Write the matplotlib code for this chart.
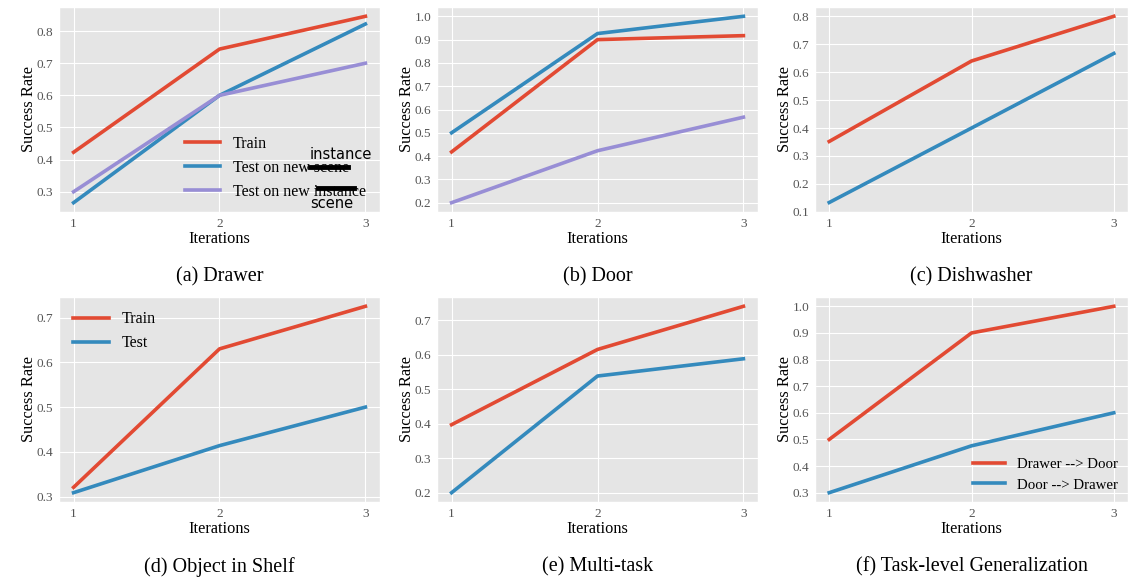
import matplotlib
matplotlib.use("Agg")
import matplotlib.pyplot as plt
from matplotlib.lines import Line2D
from matplotlib.ticker import MultipleLocator

# ---------------------------------------------------------------
# DATA
# ---------------------------------------------------------------
iterations = [1, 2, 3]

drawer_train = [0.423, 0.744, 0.846]
drawer_test_scene = [0.266, 0.60, 0.822]
drawer_test_instance = [0.30, 0.60, 0.70]

door_train = [0.418, 0.90, 0.917]
door_test_scene = [0.50, 0.926, 1.0]
door_test_instance = [0.20, 0.423, 0.567]

dish_train = [0.352, 0.64, 0.80]
dish_test = [0.1335, 0.40, 0.667]

shelf_train = [0.321, 0.63, 0.725]
shelf_test = [0.309, 0.414, 0.50]

multi_train = [0.397, 0.615, 0.740]
multi_test = [0.20, 0.538, 0.588]

task_drawer_to_door = [0.50, 0.90, 1.0]
task_door_to_drawer = [0.30, 0.476, 0.60]

captions = ["(a) Drawer", "(b) Door", "(c) Dishwasher",
            "(d) Object in Shelf", "(e) Multi-task", "(f) Task-level Generalization"]

# ---------------------------------------------------------------
# STYLE
# ---------------------------------------------------------------
plt.style.use("ggplot")
plt.rcParams["font.family"] = ["Liberation Serif", "DejaVu Serif"]
plt.rcParams["xtick.labelsize"] = 9.5
plt.rcParams["ytick.labelsize"] = 9.5
plt.rcParams["xtick.color"] = "#555555"
plt.rcParams["ytick.color"] = "#555555"
plt.rcParams["axes.labelcolor"] = "black"
plt.rcParams["axes.labelsize"] = 11.8

RED, BLUE, PURPLE = "#E24A33", "#348ABD", "#988ED5"
LW = 2.6

W, H = 1130, 580
fig = plt.figure(figsize=(W / 100, H / 100), dpi=100)

cols = [(59, 380), (437, 758), (815, 1128)]
rows = [(7, 212), (297, 502)]


def make_ax(r, c):
    x0, x1 = cols[c]
    y0, y1 = rows[r]
    ax = fig.add_axes([x0 / W, 1 - y1 / H, (x1 - x0) / W, (y1 - y0) / H])
    ax.set_xticks(iterations)
    ax.yaxis.set_major_locator(MultipleLocator(0.1))
    ax.set_xlabel("Iterations", labelpad=1)
    ax.set_ylabel("Success Rate", labelpad=0)
    ax.tick_params(length=0, pad=4)
    fig.text((x0 + x1) / 2 / W, 1 - (y1 + 65) / H, captions[r * 3 + c],
             ha="center", va="center", fontsize=14.5)
    return ax


# (a) Drawer
ax = make_ax(0, 0)
ax.plot(iterations, drawer_train, color=RED, lw=LW, label="Train")
ax.plot(iterations, drawer_test_scene, color=BLUE, lw=LW, label="Test on new scene")
ax.plot(iterations, drawer_test_instance, color=PURPLE, lw=LW, label="Test on new instance")
ax.legend(loc="lower right", frameon=False, fontsize=11.5, handlelength=2.2,
          borderaxespad=0.3, bbox_to_anchor=(0.99, 0.005))

# hand-written correction over the legend
fig.text(310 / W, 1 - 155 / H, "instance", family="DejaVu Sans", fontsize=10.5,
         va="center", ha="left")
fig.text(310 / W, 1 - 204 / H, "scene", family="DejaVu Sans", fontsize=10.5,
         va="center", ha="left")
fig.add_artist(Line2D([310 / W, 348 / W], [1 - 167 / H, 1 - 167 / H],
                      color="black", lw=3.5, transform=fig.transFigure))
fig.add_artist(Line2D([318 / W, 354 / W], [1 - 188 / H, 1 - 188 / H],
                      color="black", lw=3.5, transform=fig.transFigure))

# (b) Door
ax = make_ax(0, 1)
ax.plot(iterations, door_train, color=RED, lw=LW)
ax.plot(iterations, door_test_scene, color=BLUE, lw=LW)
ax.plot(iterations, door_test_instance, color=PURPLE, lw=LW)

# (c) Dishwasher
ax = make_ax(0, 2)
ax.plot(iterations, dish_train, color=RED, lw=LW)
ax.plot(iterations, dish_test, color=BLUE, lw=LW)
ax.set_ylim(0.0995, None)

# (d) Object in Shelf
ax = make_ax(1, 0)
ax.plot(iterations, shelf_train, color=RED, lw=LW, label="Train")
ax.plot(iterations, shelf_test, color=BLUE, lw=LW, label="Test")
ax.legend(loc="upper left", frameon=False, fontsize=11.5, handlelength=2.2)

# (e) Multi-task
ax = make_ax(1, 1)
ax.plot(iterations, multi_train, color=RED, lw=LW)
ax.plot(iterations, multi_test, color=BLUE, lw=LW)

# (f) Task-level Generalization
ax = make_ax(1, 2)
ax.plot(iterations, task_drawer_to_door, color=RED, lw=LW, label="Drawer --> Door")
ax.plot(iterations, task_door_to_drawer, color=BLUE, lw=LW, label="Door --> Drawer")
ax.legend(loc="lower right", frameon=False, fontsize=10.7, handlelength=2.15,
          borderaxespad=0.3)

fig.savefig("out.png", dpi=100)
